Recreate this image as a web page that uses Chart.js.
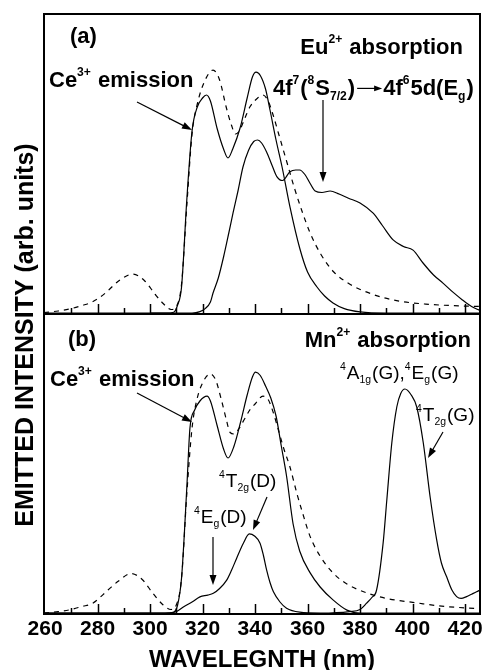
<!DOCTYPE html>
<html>
<head>
<meta charset="utf-8">
<script src="https://cdn.jsdelivr.net/npm/chart.js@4.4.1/dist/chart.umd.min.js"></script>
<style>
html, body { margin: 0; padding: 0; background: #fff; overflow: hidden; width: 485px; height: 670px; }
#wa { position: absolute; left: 0; top: 0; width: 485px; height: 670px; }
#wb { position: absolute; left: 0; top: 300px; width: 485px; height: 372px; }
</style>
</head>
<body>
<div id="wa"><canvas id="ca"></canvas></div>
<div id="wb"><canvas id="cb"></canvas></div>
<script>
// x range and tick labels (nm)
const xMin = 259.6, xMax = 425.7;
const xTickLabels = [260, 280, 300, 320, 340, 360, 380, 400, 420];
const xMinorTicks = [270, 280, 290, 300, 310, 320, 330, 340, 350, 360, 370, 380, 390, 400, 410, 420];

// panel (a): Ce3+ emission (solid), Ce3+ emission reference (dashed), Eu2+ absorption (solid)
const ceA_nm = [260, 300, 306, 309, 310.5, 312, 314, 316, 318, 320, 321.5, 323, 325.5, 328, 329.7, 331.5, 334.3, 337, 339, 340.4, 342, 344, 345.7, 348, 350.3, 353.3, 357, 360, 363.6, 366.5, 369.7, 374, 380, 390, 425.7];
const ceA_val = [0.3, 0.3, 0.3, 0.6, 3, 9, 38, 61, 69, 72, 73, 71, 62, 55, 52, 55, 62, 72, 79, 80.6, 79.5, 75, 68, 58, 49, 35.7, 22, 14, 9, 6, 3.7, 1.8, 0.7, 0.3, 0.3];

const dashA_nm = [259.6, 265, 270, 274, 278, 283, 288, 293.5, 298, 302, 305, 308, 310, 312, 314, 316, 318, 321, 324, 326.5, 329, 331, 332.5, 334, 336, 338, 341, 343, 345, 347, 349, 352, 355, 358, 361, 365, 370, 376, 385, 395, 405, 415, 425.7];
const dashA_val = [0.5, 1, 1.8, 2.8, 4, 7, 11, 13.3, 11, 6.5, 3.5, 1.5, 2.5, 10, 36, 60, 70, 78, 81.3, 78, 69, 63, 60, 61, 65, 69, 72, 73, 71, 66, 60, 51, 42, 34, 27, 20, 14, 10, 6.5, 4.3, 3.3, 2.8, 2.5];

const euA_nm = [300, 316, 319, 321, 323, 324, 326, 328, 330, 331.6, 333.5, 335.4, 337.5, 339.5, 341, 342.5, 344.4, 346.5, 348.3, 350.5, 353.3, 355.5, 357, 359, 361, 362.9, 365.5, 368.6, 372, 375.6, 380, 385, 388.5, 392.6, 396.5, 400.2, 404, 408, 411.6, 415.5, 419, 422.5, 425.7];
const euA_val = [0.3, 0.3, 0.8, 1.8, 4, 7, 12, 19, 27, 33.6, 41, 49, 54.5, 57.5, 58, 57, 54, 49.5, 45.8, 44.5, 47.4, 48, 48, 46.5, 43.5, 41, 40.5, 41, 40, 38.6, 37, 33.6, 29.5, 24.7, 22.5, 21.3, 17, 13, 10.3, 7.2, 4.7, 2.5, 1.2];

// panel (b): Ce3+ emission (solid), reference (dashed), Mn2+ absorption (solid)
const ceB_nm = [260, 300, 306, 309, 310.5, 312, 314, 315.2, 317, 319, 321.7, 323, 325.5, 328, 329.7, 332, 334.5, 337, 339, 340.2, 342, 344, 346, 348, 350, 352, 354.5, 357, 361, 364.8, 369.7, 375, 380, 390, 425.7];
const ceB_val = [0.3, 0.3, 0.3, 0.6, 3, 12, 42, 62, 68, 71, 72.6, 71, 63, 55, 52, 56, 64, 73, 79, 80.6, 79.5, 76, 72, 66, 56, 46, 30, 21, 13.7, 9, 4.7, 1.3, 0.3, 0.3, 0.3];

const dashB_nm = [259.6, 265, 270, 274, 278, 284, 288, 292.8, 297, 301, 305, 308, 310, 312, 314, 316, 318, 320, 322.9, 325, 327, 329, 330.5, 332, 334, 336, 338, 340, 343, 345, 347, 349, 351, 353.3, 356, 358, 361, 365, 369.7, 375, 382.7, 390, 401.7, 410, 420.8, 425.7];
const dashB_val = [0.3, 0.8, 1.5, 2.5, 3.5, 8, 11, 13.5, 11.5, 7, 3, 1.5, 3, 12, 40, 62, 72, 77, 80, 78, 72, 65, 60.5, 60, 62, 65, 68, 70, 72.6, 71.5, 67, 61, 55, 49, 40, 34, 25.8, 19, 13.7, 10, 7, 5.2, 3.7, 2.7, 2, 1.8];

const mnB_nm = [260, 300, 307, 310, 313, 316, 319, 322, 324.1, 326.5, 329.2, 331, 333, 335.5, 337.8, 339.8, 341.9, 343.2, 344.4, 345.7, 347, 349.5, 352, 357, 365, 376, 380, 382.5, 384.5, 386.3, 388.8, 390.2, 392.1, 394, 395.5, 397.1, 399.5, 401.6, 404.1, 406.7, 409.2, 411, 413, 415, 416.8, 418.5, 420.6, 422.5, 424.4, 425.7];
const mnB_val = [0.3, 0.3, 0.4, 0.8, 2.5, 4, 5.7, 6.3, 6.9, 8.5, 11.3, 14.5, 18.6, 23.5, 26.7, 26, 23.6, 19.5, 14.7, 10.5, 7.4, 4, 1.9, 0.6, 0.3, 0.8, 1.5, 3.6, 5.5, 8, 23.7, 38, 57, 69, 73.5, 75, 73, 69, 57, 39, 24.7, 17, 12.4, 8, 5.8, 5.2, 5.8, 6.6, 7.4, 8];

const FONT = '"Liberation Sans", Arial, Helvetica, sans-serif';

function pts(xs, ys) {
    return xs.map((x, i) => ({ x: x, y: ys[i] }));
}

function series(xs, ys, dashed) {
    return {
        data: pts(xs, ys),
        borderColor: '#000',
        borderWidth: 1.2,
        borderDash: dashed ? [5, 5] : [],
        pointRadius: 0,
        fill: false,
        cubicInterpolationMode: 'monotone'
    };
}

function arrow(ctx, x1, y1, x2, y2, head) {
    const a = Math.atan2(y2 - y1, x2 - x1);
    const h = head || 10;
    ctx.save();
    ctx.strokeStyle = '#000';
    ctx.fillStyle = '#000';
    ctx.lineWidth = 1.2;
    ctx.beginPath();
    ctx.moveTo(x1, y1);
    ctx.lineTo(x2 - h * 0.8 * Math.cos(a), y2 - h * 0.8 * Math.sin(a));
    ctx.stroke();
    ctx.beginPath();
    ctx.moveTo(x2, y2);
    ctx.lineTo(x2 - h * Math.cos(a) + h * 0.35 * Math.sin(a), y2 - h * Math.sin(a) - h * 0.35 * Math.cos(a));
    ctx.lineTo(x2 - h * Math.cos(a) - h * 0.35 * Math.sin(a), y2 - h * Math.sin(a) + h * 0.35 * Math.cos(a));
    ctx.closePath();
    ctx.fill();
    ctx.restore();
}

function partSize(p, size) {
    return (p[1] === 'sup' || p[1] === 'sub') ? size * 0.55 : size;
}

function richWidth(ctx, parts, size, weight) {
    let w = 0;
    parts.forEach(p => {
        if (p[1] === 'arrow') { w += p[2]; return; }
        ctx.font = weight + ' ' + partSize(p, size) + 'px ' + FONT;
        w += ctx.measureText(p[0]).width;
    });
    return w;
}

function drawRich(ctx, t) {
    let cx = t.align === 'right' ? t.x - richWidth(ctx, t.parts, t.size, t.weight) : t.x;
    ctx.save();
    ctx.fillStyle = '#000';
    ctx.textAlign = 'left';
    ctx.textBaseline = 'alphabetic';
    t.parts.forEach(p => {
        if (p[1] === 'arrow') {
            arrow(ctx, cx + 2, t.y - t.size * 0.3, cx + p[2] - 1, t.y - t.size * 0.3, 8);
            cx += p[2];
            return;
        }
        const dy = p[1] === 'sup' ? -t.size * 0.5 : (p[1] === 'sub' ? t.size * 0.22 : 0);
        ctx.font = t.weight + ' ' + partSize(p, t.size) + 'px ' + FONT;
        ctx.fillText(p[0], cx, t.y + dy);
        cx += ctx.measureText(p[0]).width + (p[1] === 'sup' || p[1] === 'sub' ? 1 : 0);
    });
    ctx.restore();
}

// annotations in page pixels
const notesA = [
    { parts: [['(a)']], x: 70, y: 43, size: 22, weight: 'bold' },
    { parts: [['Eu'], ['2+', 'sup'], [' absorption']], x: 462, y: 54, size: 22, weight: 'bold', align: 'right' },
    { parts: [['Ce'], ['3+', 'sup'], [' emission']], x: 49, y: 87, size: 22, weight: 'bold' },
    { parts: [['4f'], ['7', 'sup'], ['('], ['8', 'sup'], ['S'], ['7/2', 'sub'], [')'], ['', 'arrow', 28], ['4f'], ['6', 'sup'], ['5d(E'], ['g', 'sub'], [')']], x: 273, y: 95, size: 22, weight: 'bold' }
];
const arrowsA = [[137, 102, 192, 130], [323, 100, 323, 182]];

const notesB = [
    { parts: [['(b)']], x: 68, y: 346, size: 22, weight: 'bold' },
    { parts: [['Mn'], ['2+', 'sup'], [' absorption']], x: 470, y: 347, size: 22, weight: 'bold', align: 'right' },
    { parts: [['Ce'], ['3+', 'sup'], [' emission']], x: 50, y: 386, size: 22, weight: 'bold' },
    { parts: [['4', 'sup'], ['A'], ['1g', 'sub'], ['(G),'], ['4', 'sup'], ['E'], ['g', 'sub'], ['(G)']], x: 340, y: 379, size: 19, weight: 'normal' },
    { parts: [['4', 'sup'], ['T'], ['2g', 'sub'], ['(G)']], x: 416, y: 421, size: 19, weight: 'normal' },
    { parts: [['4', 'sup'], ['T'], ['2g', 'sub'], ['(D)']], x: 219, y: 487, size: 19, weight: 'normal' },
    { parts: [['4', 'sup'], ['E'], ['g', 'sub'], ['(D)']], x: 194, y: 523, size: 19, weight: 'normal' }
];
const arrowsB = [[137, 393, 192, 422], [443, 432, 428, 458], [267, 497, 253, 530], [213, 537, 213, 585]];

function decorate(offsetY, notes, arrows, yTitle) {
    return {
        id: 'decor',
        afterDraw(chart) {
            const ctx = chart.ctx;
            const a = chart.chartArea;
            const sx = chart.scales.x;
            ctx.save();
            // frame
            ctx.strokeStyle = '#000';
            ctx.lineWidth = 2;
            ctx.strokeRect(a.left, a.top, a.right - a.left, a.bottom - a.top);
            // inward ticks on bottom edge
            ctx.lineWidth = 1.5;
            xMinorTicks.forEach(v => {
                const px = Math.round(sx.getPixelForValue(v)) + 0.5;
                const len = v % 20 === 0 ? 10 : 6;
                ctx.beginPath();
                ctx.moveTo(px, a.bottom);
                ctx.lineTo(px, a.bottom - len);
                ctx.stroke();
            });
            ctx.translate(0, -offsetY);
            notes.forEach(t => drawRich(ctx, t));
            arrows.forEach(r => arrow(ctx, r[0], r[1], r[2], r[3], 10));
            if (yTitle) {
                ctx.save();
                ctx.translate(33, 335);
                ctx.rotate(-Math.PI / 2);
                ctx.fillStyle = '#000';
                ctx.textAlign = 'center';
                ctx.textBaseline = 'alphabetic';
                ctx.font = 'bold 25px ' + FONT;
                ctx.fillText(yTitle, 0, 0);
                ctx.restore();
            }
            ctx.restore();
        }
    };
}

Chart.defaults.font.family = FONT;
Chart.defaults.color = '#000';

new Chart(document.getElementById('ca'), {
    type: 'line',
    data: {
        datasets: [
            series(ceA_nm, ceA_val, false),
            series(dashA_nm, dashA_val, true),
            series(euA_nm, euA_val, false)
        ]
    },
    options: {
        responsive: true,
        maintainAspectRatio: false,
        animation: false,
        layout: { padding: { left: 44, right: 5, top: 14, bottom: 356 } },
        plugins: { legend: { display: false }, tooltip: { enabled: false } },
        scales: {
            x: { type: 'linear', min: xMin, max: xMax, display: false },
            y: { min: 0, max: 100, display: false }
        }
    },
    plugins: [decorate(0, notesA, arrowsA, 'EMITTED INTENSITY (arb. units)')]
});

new Chart(document.getElementById('cb'), {
    type: 'line',
    data: {
        datasets: [
            series(ceB_nm, ceB_val, false),
            series(dashB_nm, dashB_val, true),
            series(mnB_nm, mnB_val, false)
        ]
    },
    options: {
        responsive: true,
        maintainAspectRatio: false,
        animation: false,
        layout: { padding: { left: 44, right: 5, top: 14, bottom: 0 } },
        plugins: { legend: { display: false }, tooltip: { enabled: false } },
        scales: {
            x: {
                type: 'linear', min: xMin, max: xMax,
                afterBuildTicks: s => { s.ticks = xTickLabels.map(v => ({ value: v })); },
                afterFit: s => { s.height = 58; s.paddingLeft = 0; s.paddingRight = 0; },
                ticks: {
                    autoSkip: false, maxRotation: 0, padding: 4.5, color: '#000',
                    font: { size: 21, weight: 'bold', lineHeight: 1 }
                },
                grid: { display: false, drawTicks: false },
                border: { display: false },
                title: {
                    display: true, text: 'WAVELEGNTH (nm)', color: '#000',
                    font: { size: 24, weight: 'bold', lineHeight: 1 },
                    padding: { top: 4, bottom: 0 }
                }
            },
            y: { min: 0, max: 100, display: false }
        }
    },
    plugins: [decorate(300, notesB, arrowsB, null)]
});
</script>
</body>
</html>
